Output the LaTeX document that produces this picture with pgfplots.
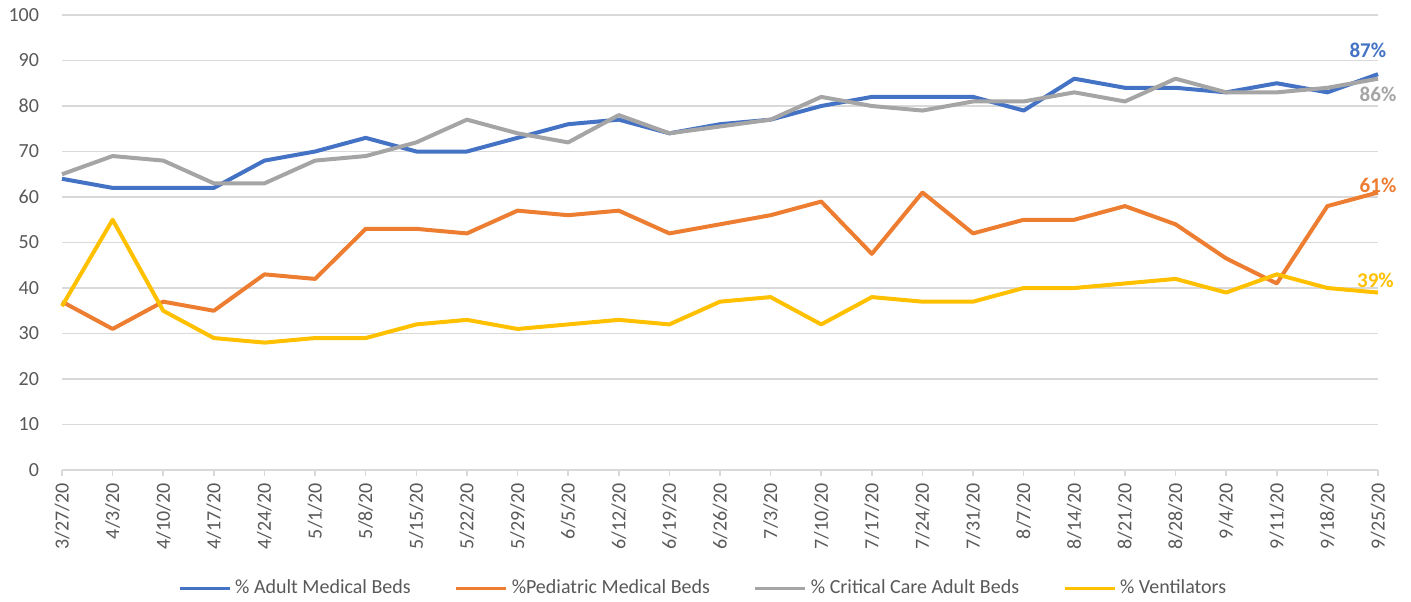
\documentclass[border=0pt]{standalone}
\usepackage{fontspec}
\setmainfont{Carlito}
\usepackage{pgfplots}
\pgfplotsset{compat=1.18}
\definecolor{cblue}{HTML}{4472C4}
\definecolor{corange}{HTML}{ED7D31}
\definecolor{cgray}{HTML}{A5A5A5}
\definecolor{cyellow}{HTML}{FFC000}
\definecolor{gridgray}{HTML}{D9D9D9}
\definecolor{labelgray}{HTML}{595959}
\pgfplotstableread{
x adult ped crit vent
0 64 37 65 36
1 62 31 69 55
2 62 37 68 35
3 62 35 63 29
4 68 43 63 28
5 70 42 68 29
6 73 53 69 29
7 70 53 72 32
8 70 52 77 33
9 73 57 74 31
10 76 56 72 32
11 77 57 78 33
12 74 52 74 32
13 76 54 75.5 37
14 77 56 77 38
15 80 59 82 32
16 82 47.5 80 38
17 82 61 79 37
18 82 52 81 37
19 79 55 81 40
20 86 55 83 40
21 84 58 81 41
22 84 54 86 42
23 83 46.5 83 39
24 85 41 83 43
25 83 58 84 40
26 87 61 86 39
}\datatable
\begin{document}
\begin{tikzpicture}[x=1pt,y=1pt]
\useasboundingbox (0,0) rectangle (705.5,300.5);
\begin{axis}[
  at={(31pt,65.5pt)}, anchor=south west,
  scale only axis, width=658pt, height=227.5pt,
  xmin=0, xmax=26, ymin=0, ymax=100,
  clip=false,
  axis x line=bottom, axis y line=left,
  x axis line style={-, color=gridgray, line width=0.75pt},
  y axis line style={draw=none},
  ytick={0,10,...,100},
  xtick={0,...,26},
  xticklabels={3/27/20,4/3/20,4/10/20,4/17/20,4/24/20,5/1/20,5/8/20,5/15/20,5/22/20,5/29/20,6/5/20,6/12/20,6/19/20,6/26/20,7/3/20,7/10/20,7/17/20,7/24/20,7/31/20,8/7/20,8/14/20,8/21/20,8/28/20,9/4/20,9/11/20,9/18/20,9/25/20},
  ymajorgrids,
  major grid style={color=gridgray, line width=0.75pt},
  tick align=outside,
  major tick length=3pt,
  xtick style={color=gridgray, line width=0.75pt},
  ytick style={draw=none},
  /pgf/number format/assume math mode=true,
  ticklabel style={font=\fontsize{10}{12}\selectfont, text=labelgray},
  xticklabel style={rotate=90, anchor=east},
  yticklabel shift=5pt,
  legend style={at={(0.488,-0.26)}, anchor=center, legend columns=4, draw=none,
    font=\fontsize{10}{12}\selectfont, text=labelgray,
    /tikz/every even column/.append style={column sep=20pt}},
  legend image code/.code={\draw[#1, line width=1.5pt] (0pt,0pt) -- (25pt,0pt);},
  every axis plot/.append style={line width=2pt, line join=round, no markers},
]
\addplot[cblue] table[x=x, y=adult] {\datatable};
\addlegendentry{\% Adult Medical Beds}
\addplot[corange] table[x=x, y=ped] {\datatable};
\addlegendentry{\%Pediatric Medical Beds}
\addplot[cgray] table[x=x, y=crit] {\datatable};
\addlegendentry{\% Critical Care Adult Beds}
\addplot[cyellow] table[x=x, y=vent] {\datatable};
\addlegendentry{\% Ventilators}
\node[font=\fontsize{10.5}{12}\selectfont\bfseries, text=cblue] at (axis cs:25.8,92.3) {87\%};
\node[font=\fontsize{10.5}{12}\selectfont\bfseries, text=cgray] at (axis cs:26,82.6) {86\%};
\node[font=\fontsize{10.5}{12}\selectfont\bfseries, text=corange] at (axis cs:26,62.6) {61\%};
\node[font=\fontsize{10.5}{12}\selectfont\bfseries, text=cyellow] at (axis cs:25.95,41.6) {39\%};
\end{axis}
\end{tikzpicture}
\end{document}
